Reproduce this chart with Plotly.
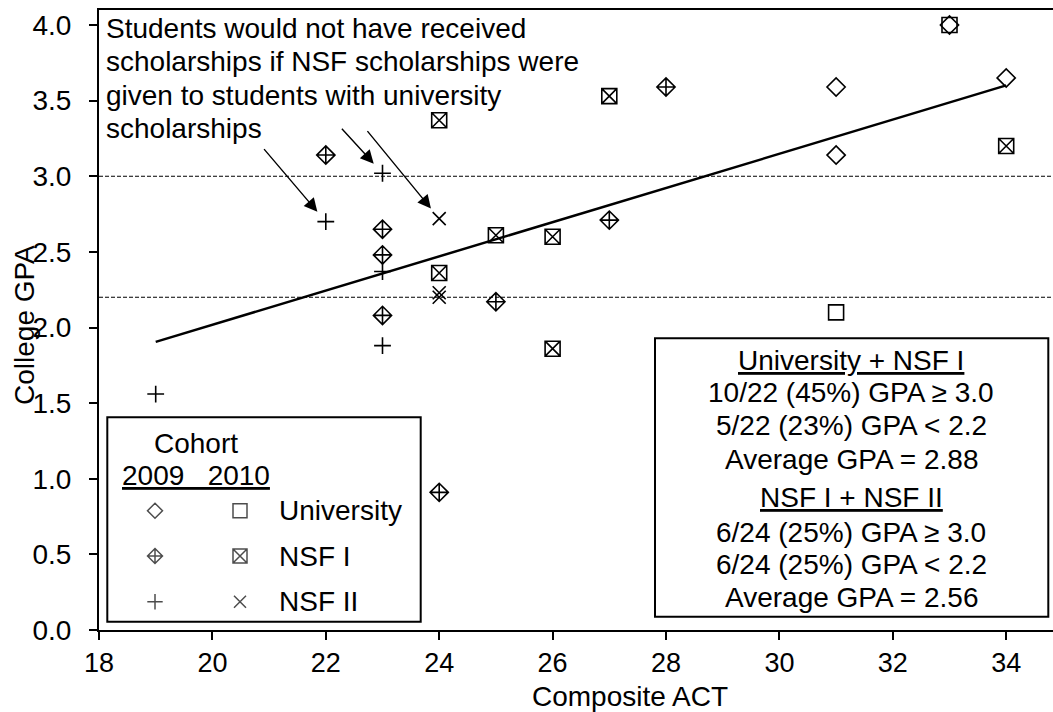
import numpy as np
import plotly.graph_objects as go

# Composite ACT score and college GPA, by scholarship group and cohort
uni_2009_act = [31, 31, 33, 34]
uni_2009_gpa = [3.59, 3.14, 4.00, 3.65]
uni_2010_act = [33, 31]
uni_2010_gpa = [4.00, 2.10]
nsf1_2009_act = [22, 23, 23, 23, 24, 25, 27, 28]
nsf1_2009_gpa = [3.14, 2.65, 2.48, 2.08, 0.91, 2.17, 2.71, 3.59]
nsf1_2010_act = [24, 24, 25, 26, 26, 27, 34]
nsf1_2010_gpa = [3.37, 2.36, 2.61, 2.60, 1.86, 3.53, 3.20]
nsf2_2009_act = [19, 22, 23, 23, 23]
nsf2_2009_gpa = [1.56, 2.70, 3.02, 2.37, 1.88]
nsf2_2010_act = [24, 24, 24]
nsf2_2010_gpa = [2.72, 2.23, 2.20]

gpa_thresholds = [3.0, 2.2]
x_ticks = [18, 20, 22, 24, 26, 28, 30, 32, 34]
y_ticks = [0.0, 0.5, 1.0, 1.5, 2.0, 2.5, 3.0, 3.5, 4.0]

note_lines = [
    "Students would not have received",
    "scholarships if NSF scholarships were",
    "given to students with university",
    "scholarships",
]
summary_lines = [
    "<u>University + NSF I</u>",
    "10/22 (45%) GPA \u2265 3.0",
    "5/22 (23%) GPA < 2.2",
    "Average GPA = 2.88",
    "<u>NSF I + NSF II</u>",
    "6/24 (25%) GPA \u2265 3.0",
    "6/24 (25%) GPA < 2.2",
    "Average GPA = 2.56",
]
group_names = ["University", "NSF I", "NSF II"]
cohort_years = ["2009", "2010"]

# ---- page geometry (pixels) ----
W, H = 1053, 712
ML, MR, MT, MB = 99, 0, 10, 82
PW, PH = W - ML - MR, H - MT - MB
PX_PER_ACT = 56.7
PX_PER_GPA = 151.25
FONT = "Liberation Sans, Arial, sans-serif"
BLACK = "#000000"


def fx(px):
    return (px - ML) / PW


def fy(py):
    return (H - MB - py) / PH


series = [
    (uni_2009_act, uni_2009_gpa, "diamond-open", 14),
    (uni_2010_act, uni_2010_gpa, "square-open", 15),
    (nsf1_2009_act, nsf1_2009_gpa, "diamond-cross-open", 14),
    (nsf1_2010_act, nsf1_2010_gpa, "square-x-open", 15),
    (nsf2_2009_act, nsf2_2009_gpa, "cross-thin-open", 12),
    (nsf2_2010_act, nsf2_2010_gpa, "x-thin-open", 13),
]

fig = go.Figure()

# least-squares trend through every student
all_act = np.concatenate([np.asarray(s[0], float) for s in series])
all_gpa = np.concatenate([np.asarray(s[1], float) for s in series])
slope, intercept = np.polyfit(all_act, all_gpa, 1)
trend_x = np.array([all_act.min(), all_act.max()])
fig.add_trace(go.Scatter(
    x=trend_x, y=slope * trend_x + intercept, mode="lines",
    line=dict(color=BLACK, width=2.5), showlegend=False, hoverinfo="skip",
))

for act, gpa, symbol, size in series:
    fig.add_trace(go.Scatter(
        x=act, y=gpa, mode="markers", showlegend=False, cliponaxis=False,
        marker=dict(symbol=symbol, size=size, color=BLACK,
                    line=dict(color=BLACK, width=1.6)),
    ))

# legend key: two cohort columns, three group rows (pixel-space overlay axes)
key_cols = [155, 240]
key_rows = [510.7, 556.0, 601.7]
key_sizes = [[11.5, 14], [11.5, 14], [11, 12]]
key_x, key_y, key_sym, key_size = [], [], [], []
for r, row_y in enumerate(key_rows):
    for c, col_x in enumerate(key_cols):
        key_x.append(col_x)
        key_y.append(row_y)
        key_sym.append(series[2 * r + c][2])
        key_size.append(key_sizes[r][c])
fig.add_trace(go.Scatter(
    x=key_x, y=key_y, xaxis="x2", yaxis="y2", mode="markers",
    showlegend=False, hoverinfo="skip", cliponaxis=False,
    marker=dict(symbol=key_sym, size=key_size, color=BLACK,
                line=dict(color=BLACK, width=1.5)),
))

shapes = []
for g in gpa_thresholds:
    shapes.append(dict(type="line", xref="paper", yref="y", x0=0, x1=1, y0=g, y1=g,
                       line=dict(color=BLACK, width=1.2, dash="4px,2px"), layer="below"))
# legend frame and summary frame
shapes.append(dict(type="rect", xref="paper", yref="paper",
                   x0=fx(107.3), x1=fx(420.7), y0=fy(621.7), y1=fy(417.3),
                   line=dict(color=BLACK, width=2), fillcolor="white", layer="below"))
shapes.append(dict(type="rect", xref="paper", yref="paper",
                   x0=fx(655), x1=fx(1048.3), y0=fy(616.7), y1=fy(338.3),
                   line=dict(color=BLACK, width=2), fillcolor="white", layer="below"))

annotations = []


def text_at(px, py, text, anchor="left", size=28, angle=0):
    annotations.append(dict(
        xref="paper", yref="paper", x=fx(px), y=fy(py), text=text,
        showarrow=False, xanchor=anchor, yanchor="middle", textangle=angle,
        font=dict(family=FONT, size=size, color=BLACK),
    ))


for i, line in enumerate(note_lines):
    text_at(104, 38.3 + 33.2 * i - 9.7, line)

# arrows pointing at the three affected students
arrow_targets = [
    (nsf2_2009_act[1], nsf2_2009_gpa[1], -63, -74),
    (nsf2_2009_act[2], nsf2_2009_gpa[2], -42, -46),
    (nsf2_2010_act[0], nsf2_2010_gpa[0], -73, -89),
]
for ax_, ay_, dx, dy in arrow_targets:
    annotations.append(dict(
        x=ax_, y=ay_, xref="x", yref="y", ax=dx, ay=dy, text="",
        showarrow=True, arrowhead=2, arrowsize=1.9, arrowwidth=1.4,
        arrowcolor=BLACK, standoff=13,
    ))

summary_baselines = [370, 402.3, 435.7, 469, 507.3, 541.7, 574, 606.7]
for line, base in zip(summary_lines, summary_baselines):
    text_at(851, base - 9.7, line, anchor="center")

text_at(196, 443, "Cohort", anchor="center")
text_at(119.5, 475.3, "<u>" + cohort_years[0] + "\u00a0\u00a0\u00a0" + cohort_years[1] + "</u>")
for name, row_y in zip(group_names, key_rows):
    text_at(276.5, row_y, name)

# axis titles
text_at(630, 696, "Composite ACT", anchor="center")
text_at(24, 325, "College GPA", anchor="center", angle=-90)

fig.update_layout(
    width=W, height=H,
    margin=dict(l=ML, r=MR, t=MT, b=MB, pad=0),
    paper_bgcolor="white", plot_bgcolor="white",
    font=dict(family=FONT, size=28, color=BLACK),
    showlegend=False,
    xaxis=dict(
        range=[18, 18 + PW / PX_PER_ACT], tickvals=x_ticks,
        ticktext=[str(v) for v in x_ticks],
        showline=True, linecolor=BLACK, linewidth=2, mirror=True,
        ticks="outside", ticklen=8, tickwidth=1.5, tickcolor=BLACK,
        showgrid=False, zeroline=False, tickfont=dict(size=27),
        ticklabelstandoff=0,
    ),
    yaxis=dict(
        range=[0, PH / PX_PER_GPA], tickvals=y_ticks,
        ticktext=[f"{v:.1f}" for v in y_ticks],
        showline=True, linecolor=BLACK, linewidth=2,
        ticks="outside", ticklen=8, tickwidth=1.5, tickcolor=BLACK,
        showgrid=False, zeroline=False, tickfont=dict(size=28),
        ticklabelstandoff=12,
    ),
    xaxis2=dict(range=[ML, W - MR], overlaying="x", anchor="y2", visible=False),
    yaxis2=dict(range=[H - MB, MT], overlaying="y", anchor="x2", visible=False),
    shapes=shapes,
    annotations=annotations,
)

fig.write_html("out.html")
